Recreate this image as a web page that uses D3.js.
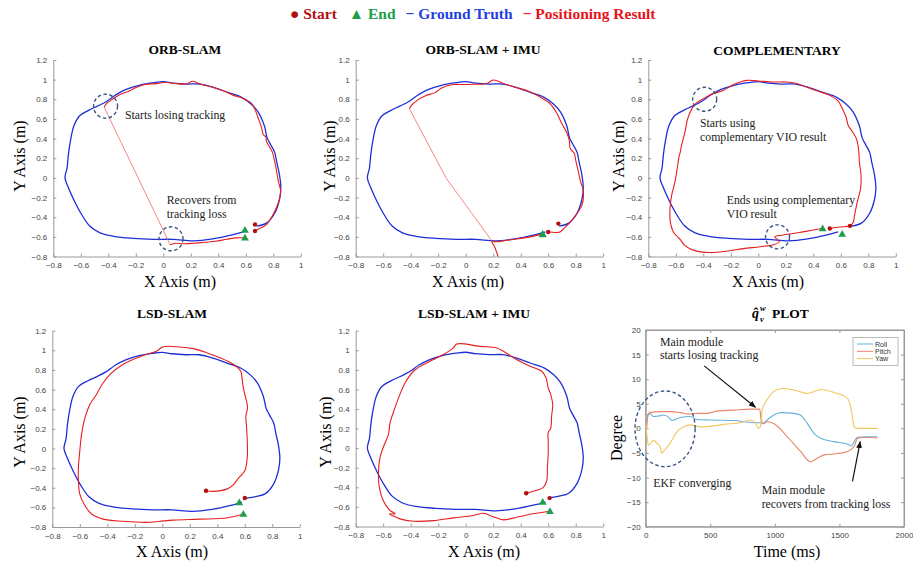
<!DOCTYPE html>
<html>
<head>
  <meta charset="utf-8">
  <title>Trajectory comparison</title>
  <style type="text/css">
  body { margin: 0; background: white; }
  svg text { font-family: "Liberation Serif", "Times New Roman", serif; }
  .tick text { font-family: "Liberation Sans", Arial, sans-serif; font-size: 8px; fill: #444; }
  .axis path, .axis line { stroke: #9a9a9a; }
  </style>
</head>
<body>
<script src="https://d3js.org/d3.v7.min.js"></script>
<div id="chart"></div>
<script>

// ---- data (metres) ----
var groundTruth = [
  [0.60,-0.505],[0.64,-0.50],[0.68,-0.49],[0.75,-0.46],[0.81,-0.36],[0.845,-0.22],[0.855,-0.10],
  [0.845,0.03],[0.825,0.16],[0.81,0.26],[0.78,0.34],[0.755,0.41],[0.735,0.53],[0.69,0.67],
  [0.64,0.75],[0.57,0.82],[0.47,0.87],[0.37,0.92],[0.27,0.955],[0.17,0.955],[0.07,0.965],
  [0.0,0.98],[-0.07,0.97],[-0.17,0.945],[-0.27,0.90],[-0.34,0.85],[-0.41,0.78],[-0.48,0.73],
  [-0.54,0.69],[-0.61,0.63],[-0.65,0.53],[-0.675,0.38],[-0.69,0.24],[-0.70,0.10],[-0.715,0.0],
  [-0.69,-0.10],[-0.645,-0.24],[-0.595,-0.37],[-0.535,-0.49],[-0.46,-0.56],[-0.36,-0.595],
  [-0.22,-0.615],[-0.07,-0.625],[0.07,-0.625],[0.22,-0.64],[0.36,-0.62],[0.50,-0.58],[0.58,-0.55]
];

var orbSlam = [
  [[0.667,-0.54],[0.70,-0.515],[0.75,-0.475],[0.80,-0.37],[0.84,-0.24],[0.853,-0.135],[0.836,-0.03],
   [0.82,0.10],[0.805,0.20],[0.795,0.255],[0.775,0.31],[0.75,0.37],[0.745,0.42],[0.727,0.44],
   [0.715,0.51],[0.69,0.61],[0.667,0.695],[0.64,0.76],[0.57,0.815],[0.51,0.84],[0.46,0.875],
   [0.364,0.92],[0.267,0.955],[0.213,0.983],[0.17,0.956],[0.073,0.963],[0.012,0.973],[-0.048,0.96],
   [-0.133,0.95],[-0.206,0.915],[-0.255,0.88],[-0.315,0.85],[-0.364,0.805],[-0.41,0.76],[-0.43,0.72]],
  [[0.05,-0.68],[0.09,-0.665],[0.15,-0.67],[0.22,-0.665],[0.30,-0.655],[0.38,-0.645],[0.46,-0.625],
   [0.53,-0.61],[0.594,-0.61]]
];
var orbSlamJump = [[-0.43,0.72],[0.05,-0.68]];
var orbSlamStarts = [[0.667,-0.475],[0.667,-0.54]];
var orbSlamEnds = [[0.594,-0.53],[0.594,-0.61]];

var orbImu = [
  [[0.60,-0.55],[0.686,-0.55],[0.71,-0.52],[0.76,-0.45],[0.81,-0.36],[0.845,-0.28],[0.856,-0.14],
   [0.836,-0.04],[0.82,0.06],[0.80,0.18],[0.79,0.25],[0.76,0.30],[0.754,0.38],[0.735,0.46],
   [0.70,0.55],[0.66,0.665],[0.61,0.76],[0.545,0.82],[0.47,0.875],[0.37,0.92],[0.286,0.955],
   [0.20,0.997],[0.153,0.96],[0.06,0.953],[-0.017,0.95],[-0.09,0.95],[-0.175,0.915],[-0.223,0.868],
   [-0.296,0.834],[-0.356,0.786],[-0.393,0.74],[-0.41,0.705]],
  [[0.25,-0.86],[0.21,-0.70],[0.19,-0.645],[0.22,-0.65],[0.30,-0.635],[0.38,-0.62],[0.45,-0.605],
   [0.52,-0.585],[0.56,-0.57]]
];
var orbImuJump = [[-0.41,0.705],[-0.14,-0.007],[0.19,-0.64]];
var orbImuStarts = [[0.674,-0.465],[0.60,-0.55]];
var orbImuEnds = [[0.56,-0.57],[0.56,-0.575]];

var complementary = [
  [[0.52,-0.515],[0.594,-0.50],[0.667,-0.488],[0.69,-0.454],[0.70,-0.38],[0.72,-0.244],[0.744,-0.108],
   [0.747,0.027],[0.735,0.163],[0.73,0.28],[0.715,0.393],[0.686,0.468],[0.655,0.53],[0.638,0.62],
   [0.606,0.72],[0.58,0.783],[0.52,0.84],[0.424,0.888],[0.34,0.93],[0.28,0.96],[0.206,0.976],
   [0.11,0.976],[0.0,0.986],[-0.085,0.993],[-0.18,0.95],[-0.255,0.89],[-0.327,0.858],[-0.40,0.807],
   [-0.45,0.763],[-0.485,0.70],[-0.514,0.60],[-0.533,0.468],[-0.558,0.332],[-0.57,0.247],
   [-0.575,0.224],[-0.59,0.095],[-0.606,-0.04],[-0.63,-0.176],[-0.642,-0.31],[-0.64,-0.447],
   [-0.618,-0.55],[-0.57,-0.624],[-0.533,-0.69],[-0.473,-0.735],[-0.35,-0.76],[-0.23,-0.746],
   [-0.11,-0.72],[0.012,-0.70],[0.11,-0.68],[0.153,-0.65],[0.12,-0.60],[0.17,-0.583],[0.30,-0.556],
   [0.40,-0.53],[0.468,-0.515]]
];
var complementaryStarts = [[0.52,-0.515],[0.667,-0.488]];
var complementaryEnds = [[0.468,-0.515],[0.61,-0.57]];

var lsdSlam = [
  [[0.318,-0.43],[0.37,-0.437],[0.468,-0.414],[0.516,-0.37],[0.555,-0.30],[0.60,-0.227],[0.618,-0.09],
   [0.618,0.078],[0.613,0.213],[0.608,0.332],[0.62,0.417],[0.606,0.52],[0.59,0.613],[0.58,0.715],
   [0.57,0.79],[0.516,0.858],[0.42,0.925],[0.322,0.976],[0.225,1.017],[0.128,1.034],[0.007,1.037],
   [-0.04,0.993],[-0.114,0.96],[-0.21,0.908],[-0.284,0.858],[-0.38,0.756],[-0.43,0.67],[-0.478,0.553],
   [-0.526,0.45],[-0.562,0.315],[-0.587,0.146],[-0.60,-0.024],[-0.61,-0.193],[-0.61,-0.33],
   [-0.60,-0.464],[-0.562,-0.583],[-0.514,-0.668],[-0.43,-0.72],[-0.284,-0.742],[-0.114,-0.753],
   [-0.017,-0.742],[0.08,-0.73],[0.274,-0.72],[0.468,-0.708],[0.59,-0.668]]
];
var lsdSlamStarts = [[0.318,-0.43],[0.60,-0.505]];
var lsdSlamEnds = [[0.56,-0.55],[0.59,-0.668]];

var lsdImu = [
  [[0.44,-0.46],[0.49,-0.44],[0.565,-0.40],[0.59,-0.33],[0.594,-0.197],[0.60,-0.06],[0.60,0.075],
   [0.60,0.16],[0.618,0.203],[0.625,0.33],[0.633,0.447],[0.618,0.55],[0.60,0.617],[0.584,0.72],
   [0.553,0.786],[0.468,0.837],[0.37,0.905],[0.274,0.99],[0.225,1.024],[0.104,1.04],[-0.065,1.064],
   [-0.09,1.024],[-0.162,0.956],[-0.235,0.905],[-0.308,0.854],[-0.38,0.786],[-0.44,0.668],
   [-0.478,0.55],[-0.514,0.414],[-0.55,0.26],[-0.562,0.142],[-0.60,0.007],[-0.623,-0.095],
   [-0.635,-0.264],[-0.628,-0.40],[-0.60,-0.535],[-0.555,-0.63],[-0.514,-0.67],[-0.555,-0.67],
   [-0.478,-0.722],[-0.38,-0.746],[-0.235,-0.74],[-0.09,-0.712],[0.056,-0.688],[0.128,-0.664],
   [0.20,-0.70],[0.274,-0.732],[0.37,-0.705],[0.49,-0.67],[0.613,-0.644]]
];
var lsdImuStarts = [[0.44,-0.46],[0.61,-0.51]];
var lsdImuEnds = [[0.56,-0.55],[0.613,-0.644]];

// q plot (time ms, degree)
var rollSeries = [[0,0],[5,-0.8],[8,1.0],[21,2.7],[34,3.0],[60,2.4],[100,2.5],[137,2.7],[189,2.0],
  [202,1.6],[267,2.2],[344,2.4],[396,1.8],[500,1.7],[681,1.6],[837,1.15],[889,1.15],[907,0.9],
  [940,1.7],[992,2.7],[1044,3.2],[1148,3.05],[1199,2.7],[1251,1.0],[1303,-1.0],[1355,-2.0],
  [1458,-2.7],[1562,-3.2],[1593,-3.6],[1614,-2.7],[1640,-1.8],[1718,-1.7],[1795,-1.7]];
var pitchSeries = [[0,0.3],[6,-0.5],[13,2.7],[34,3.2],[111,3.4],[189,3.4],[267,3.2],[332,2.9],
  [396,3.05],[474,3.05],[552,3.5],[681,3.7],[811,3.9],[883,3.9],[894,1.7],[915,1.0],[940,1.35],
  [992,1.0],[1096,-1.7],[1199,-4.7],[1277,-6.8],[1329,-6.1],[1381,-5.4],[1458,-5.2],[1562,-4.7],
  [1614,-3.7],[1640,-2.0],[1718,-1.8],[1795,-2.0]];
var yawSeries = [[0,1.0],[8,-1.0],[21,-3.4],[34,-3.2],[60,-2.4],[85,-3.0],[111,-3.7],[124,-5.1],
  [137,-4.7],[189,-3.0],[241,-0.7],[293,0.3],[344,0.7],[422,0.3],[526,0.5],[630,0.9],[733,1.15],
  [811,1.7],[850,1.0],[876,0],[889,0.5],[902,3.7],[940,5.8],[1018,7.9],[1070,8.1],[1148,7.8],
  [1251,7.1],[1355,7.9],[1458,7.3],[1562,6.1],[1593,3.7],[1614,0.3],[1640,0],[1795,0]];

var xTicks = [-0.8,-0.6,-0.4,-0.2,0,0.2,0.4,0.6,0.8,1];
var yTicks = [-0.8,-0.6,-0.4,-0.2,0,0.2,0.4,0.6,0.8,1,1.2];
var timeTicks = [0,500,1000,1500,2000];
var degreeTicks = [-20,-15,-10,-5,0,5,10,15,20];
var legendItems = ["Start", "End", "Ground Truth", "Positioning Result"];
var seriesNames = ["Roll", "Pitch", "Yaw"];

// ---- layout ----
var width = 913, height = 567;
var blue = "#1f2fd6", red = "#e81e1e", dotRed = "#b01010", green = "#1e9e4a";
var circleColor = "#3a5488";
var seriesColors = ["#64b2d8", "#e8866a", "#f0c75e"];

var svg = d3.select("#chart").append("svg")
  .attr("width", width)
  .attr("height", height);

var panels = [
  { title: "ORB-SLAM", tx: 185, ty: 54, left: 53.3, right: 300.8, top: 60, bottom: 256.5,
    ylx: 24.5, yly: 156, xlx: 180, xly: 287, result: orbSlam, jump: orbSlamJump,
    starts: orbSlamStarts, ends: orbSlamEnds, gtFrom: 2,
    circles: [[-0.42,0.73],[0.056,-0.62]],
    notes: [["Starts losing tracking", 125, 119], ["Recovers from", 166.7, 204], ["tracking loss", 166.7, 218]] },
  { title: "ORB-SLAM + IMU", tx: 483, ty: 54, left: 355.7, right: 603.2, top: 60, bottom: 256.5,
    ylx: 335, yly: 156, xlx: 468, xly: 287, result: orbImu, jump: orbImuJump,
    starts: orbImuStarts, ends: orbImuEnds, gtFrom: 2, circles: [], notes: [] },
  { title: "COMPLEMENTARY", tx: 777, ty: 55, left: 648.3, right: 895.8, top: 60, bottom: 256.5,
    ylx: 624, yly: 156, xlx: 768, xly: 287, result: complementary, jump: null,
    starts: complementaryStarts, ends: complementaryEnds, gtFrom: 2,
    circles: [[-0.39,0.80],[0.14,-0.60]],
    notes: [["Starts using", 700, 127], ["complementary VIO result", 700, 141],
            ["Ends using complementary", 726.7, 204], ["VIO result", 726.7, 218]] },
  { title: "LSD-SLAM", tx: 172, ty: 318, left: 52.3, right: 299.8, top: 330.7, bottom: 527,
    ylx: 24.5, yly: 432, xlx: 172, xly: 557, result: lsdSlam, jump: null,
    starts: lsdSlamStarts, ends: lsdSlamEnds, gtFrom: 0, circles: [], notes: [] },
  { title: "LSD-SLAM + IMU", tx: 474, ty: 318, left: 355.7, right: 603.2, top: 330.7, bottom: 526.5,
    ylx: 331, yly: 432, xlx: 484, xly: 557, result: lsdImu, jump: null,
    starts: lsdImuStarts, ends: lsdImuEnds, gtFrom: 0, circles: [], notes: [] }
];

function fmt(d) { return d3.format("")(+d.toFixed(1)); }

panels.forEach(function(p, i) {
  var x = d3.scaleLinear().domain([-0.8, 1]).range([p.left, p.right]);
  var y = d3.scaleLinear().domain([-0.8, 1.2]).range([p.bottom, p.top]);

  svg.append("clipPath").attr("id", "clip" + i)
    .append("rect")
      .attr("x", p.left).attr("y", p.top)
      .attr("width", p.right - p.left).attr("height", p.bottom - p.top);

  // axes: left and bottom only, ticks pointing inward
  svg.append("g")
    .attr("class", "axis")
    .attr("transform", "translate(0," + p.bottom + ")")
    .call(d3.axisBottom(x).tickValues(xTicks).tickSizeInner(-3).tickSizeOuter(0).tickPadding(6).tickFormat(fmt));
  svg.append("g")
    .attr("class", "axis")
    .attr("transform", "translate(" + p.left + ",0)")
    .call(d3.axisLeft(y).tickValues(yTicks).tickSizeInner(-3).tickSizeOuter(0).tickPadding(6).tickFormat(fmt));

  var line = d3.line()
    .x(function(d) { return x(d[0]); })
    .y(function(d) { return y(d[1]); })
    .curve(d3.curveCatmullRom.alpha(0.5));

  var plot = svg.append("g").attr("clip-path", "url(#clip" + i + ")");

  plot.append("path")
    .attr("d", line(groundTruth.slice(p.gtFrom)))
    .attr("fill", "none")
    .attr("stroke", blue)
    .attr("stroke-width", 1.3);

  if (p.jump) {
    plot.append("path")
      .attr("d", d3.line().x(function(d) { return x(d[0]); }).y(function(d) { return y(d[1]); })(p.jump))
      .attr("fill", "none")
      .attr("stroke", "#ee6a6a")
      .attr("stroke-width", 0.8);
  }

  plot.selectAll(".result")
    .data(p.result)
    .enter()
    .append("path")
      .attr("d", line)
      .attr("fill", "none")
      .attr("stroke", red)
      .attr("stroke-width", 1.1);

  svg.selectAll(".start" + i)
    .data(p.starts)
    .enter()
    .append("circle")
      .attr("cx", function(d) { return x(d[0]); })
      .attr("cy", function(d) { return y(d[1]); })
      .attr("r", 2.2)
      .attr("fill", dotRed);

  svg.selectAll(".end" + i)
    .data(p.ends)
    .enter()
    .append("path")
      .attr("d", d3.symbol().type(d3.symbolTriangle).size(26))
      .attr("transform", function(d) { return "translate(" + x(d[0]) + "," + (y(d[1]) + 0.5) + ")"; })
      .attr("fill", green);

  svg.selectAll(".ring" + i)
    .data(p.circles)
    .enter()
    .append("circle")
      .attr("cx", function(d) { return x(d[0]); })
      .attr("cy", function(d) { return y(d[1]); })
      .attr("r", 12)
      .attr("fill", "none")
      .attr("stroke", circleColor)
      .attr("stroke-width", 1.4)
      .attr("stroke-dasharray", "3.5,2.5");

  svg.selectAll(".note" + i)
    .data(p.notes)
    .enter()
    .append("text")
      .attr("x", function(d) { return d[1]; })
      .attr("y", function(d) { return d[2]; })
      .style("font-size", "11.8px")
      .attr("fill", "#222")
      .text(function(d) { return d[0]; });

  svg.append("text")
    .attr("x", p.tx).attr("y", p.ty)
    .attr("text-anchor", "middle")
    .style("font-size", "13.5px")
    .style("font-weight", "bold")
    .text(p.title);

  svg.append("text")
    .attr("transform", "translate(" + p.ylx + "," + p.yly + ") rotate(-90)")
    .attr("text-anchor", "middle")
    .style("font-size", "16px")
    .text("Y Axis (m)");

  svg.append("text")
    .attr("x", p.xlx).attr("y", p.xly)
    .attr("text-anchor", "middle")
    .style("font-size", "16px")
    .text("X Axis (m)");
});

// ---- q plot ----
var qx = d3.scaleLinear().domain([0, 2000]).range([645.7, 904]);
var qy = d3.scaleLinear().domain([-20, 20]).range([526.7, 330]);

svg.append("rect")
  .attr("x", 645.7).attr("y", 330)
  .attr("width", 904 - 645.7).attr("height", 526.7 - 330)
  .attr("fill", "none")
  .attr("stroke", "#9a9a9a");

svg.append("g")
  .attr("class", "axis")
  .attr("transform", "translate(0,526.7)")
  .call(d3.axisBottom(qx).tickValues(timeTicks).tickSizeInner(-3).tickSizeOuter(0).tickPadding(6).tickFormat(d3.format("d")));
svg.append("g")
  .attr("class", "axis")
  .attr("transform", "translate(645.7,0)")
  .call(d3.axisLeft(qy).tickValues(degreeTicks).tickSizeInner(-3).tickSizeOuter(0).tickPadding(5));
svg.append("g")
  .attr("class", "axis")
  .attr("transform", "translate(904,0)")
  .call(d3.axisRight(qy).tickValues(degreeTicks).tickSizeInner(-3).tickSizeOuter(0).tickFormat(""));
svg.append("g")
  .attr("class", "axis")
  .attr("transform", "translate(0,330)")
  .call(d3.axisTop(qx).tickValues(timeTicks).tickSizeInner(-3).tickSizeOuter(0).tickFormat(""));

var qline = d3.line()
  .x(function(d) { return qx(d[0]); })
  .y(function(d) { return qy(d[1]); })
  .curve(d3.curveMonotoneX);

[rollSeries, pitchSeries, yawSeries].forEach(function(s, i) {
  svg.append("path")
    .attr("d", qline(s))
    .attr("fill", "none")
    .attr("stroke", seriesColors[i])
    .attr("stroke-width", 1.1);
});

// legend box
var lg = svg.append("g").attr("transform", "translate(853,337.5)");
lg.append("rect").attr("width", 45).attr("height", 28)
  .attr("fill", "white").attr("stroke", "#aaa").attr("stroke-width", 0.8);
seriesNames.forEach(function(n, i) {
  lg.append("line")
    .attr("x1", 4).attr("x2", 20)
    .attr("y1", 6.5 + i * 7.3).attr("y2", 6.5 + i * 7.3)
    .attr("stroke", seriesColors[i]).attr("stroke-width", 1);
  lg.append("text")
    .attr("x", 22).attr("y", 9 + i * 7.3)
    .style("font-family", "Liberation Sans, Arial, sans-serif")
    .style("font-size", "7px")
    .attr("fill", "#333")
    .text(n);
});

// EKF ellipse
svg.append("ellipse")
  .attr("cx", qx(150)).attr("cy", qy(-0.1))
  .attr("rx", qx(233) - qx(0)).attr("ry", qy(0) - qy(7.7))
  .attr("fill", "none")
  .attr("stroke", circleColor)
  .attr("stroke-width", 1.4)
  .attr("stroke-dasharray", "3.5,2.5");

// arrows
svg.append("defs").append("marker")
  .attr("id", "head")
  .attr("viewBox", "0 0 10 10")
  .attr("refX", 9).attr("refY", 5)
  .attr("markerWidth", 6).attr("markerHeight", 6)
  .attr("orient", "auto")
  .append("path").attr("d", "M0,1L10,5L0,9Z").attr("fill", "#111");

var arrows = [[[453,12.7],[850,4.3]], [[1601,-10.8],[1661,-2.7]]];
arrows.forEach(function(a) {
  svg.append("line")
    .attr("x1", qx(a[0][0])).attr("y1", qy(a[0][1]))
    .attr("x2", qx(a[1][0])).attr("y2", qy(a[1][1]))
    .attr("stroke", "#111").attr("stroke-width", 1.2)
    .attr("marker-end", "url(#head)");
});

var qNotes = [["Main module", 660, 346], ["starts losing tracking", 660, 359],
  ["EKF converging", 653.3, 487], ["Main module", 761.7, 494], ["recovers from tracking loss", 761.7, 508]];
svg.selectAll(".qnote")
  .data(qNotes)
  .enter()
  .append("text")
    .attr("x", function(d) { return d[1]; })
    .attr("y", function(d) { return d[2]; })
    .style("font-size", "11.8px")
    .attr("fill", "#222")
    .text(function(d) { return d[0]; });

// title q-hat with sub/superscript, pieces as separate texts
svg.append("text")
  .attr("x", 752).attr("y", 318)
  .style("font-size", "14px").style("font-weight", "bold").style("font-style", "italic")
  .text("q\u0302");
svg.append("text")
  .attr("x", 760).attr("y", 322)
  .style("font-size", "8.5px").style("font-weight", "bold").style("font-style", "italic")
  .text("v");
svg.append("text")
  .attr("x", 760).attr("y", 311)
  .style("font-size", "8.5px").style("font-weight", "bold").style("font-style", "italic")
  .text("w");
svg.append("text")
  .attr("x", 772).attr("y", 318)
  .style("font-size", "13.5px").style("font-weight", "bold")
  .text("PLOT");

svg.append("text")
  .attr("transform", "translate(622,438) rotate(-90)")
  .attr("text-anchor", "middle")
  .style("font-size", "16px")
  .text("Degree");

svg.append("text")
  .attr("x", 787).attr("y", 557)
  .attr("text-anchor", "middle")
  .style("font-size", "16px")
  .text("Time (ms)");

// ---- top legend ----
var topLegend = svg.append("text")
  .attr("x", 290).attr("y", 18.5)
  .style("font-size", "15.5px")
  .style("font-weight", "bold")
  .attr("xml:space", "preserve");
topLegend.append("tspan").attr("fill", dotRed).text("\u25CF " + legendItems[0]);
topLegend.append("tspan").attr("fill", green).attr("dx", 12).text("\u25B2 " + legendItems[1]);
topLegend.append("tspan").attr("fill", "#1f3fe0").attr("dx", 10).text("\u2212 " + legendItems[2]);
topLegend.append("tspan").attr("fill", "#e8141c").attr("dx", 10).text("\u2212 " + legendItems[3]);

</script>
</body>
</html>
